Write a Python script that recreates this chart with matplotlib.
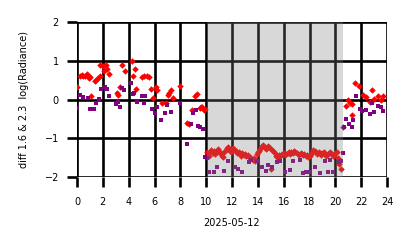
import matplotlib
matplotlib.use("Agg")
import matplotlib.pyplot as plt
import numpy as np

# Red series (diff 1.6)
red_hours = [0.03, 0.23, 0.4, 0.5, 0.65, 0.8, 0.9, 1.0, 1.05, 1.4, 1.5, 1.65, 1.8, 1.78, 2.0, 2.1, 2.25, 2.35, 2.5,
             3.07, 3.2, 3.3, 3.5, 3.7, 4.23, 4.35, 4.5, 4.6, 5.0, 5.2, 5.4, 5.6, 5.7, 5.9, 6.1, 6.2,
             6.55, 6.85, 7.05, 7.15, 7.25, 7.4, 8.0, 8.5, 8.7, 8.9, 9.15, 9.3, 9.5, 9.6, 9.7, 9.8, 9.9,
             10.1, 10.2, 10.3, 10.4, 10.5, 10.6, 10.7, 10.8, 10.9, 11.0, 11.1, 11.2, 11.3, 11.4, 11.5, 11.6,
             11.7, 11.8, 11.9, 12.0, 12.1, 12.2, 12.3, 12.4, 12.5, 12.6, 12.7, 12.8, 12.9, 13.0, 13.1, 13.2,
             13.3, 13.4, 13.5, 13.6, 13.7, 13.8, 13.9, 14.0, 14.1, 14.2, 14.3, 14.4, 14.5, 14.6, 14.7, 14.8,
             14.9, 15.0, 15.1, 15.2, 15.3, 15.4, 15.5, 15.6, 15.7, 15.8, 15.9, 16.0, 16.1, 16.2, 16.3, 16.4,
             16.5, 16.6, 16.7, 16.8, 16.9, 17.0, 17.1, 17.2, 17.3, 17.4, 17.5, 17.6, 17.7, 17.8, 17.9, 18.0,
             18.1, 18.2, 18.3, 18.4, 18.5, 18.6, 18.7, 18.8, 18.9, 19.0, 19.1, 19.2, 19.3, 19.4, 19.5, 19.6,
             19.7, 19.8, 19.9, 20.0, 20.1, 20.2, 20.3, 20.4,
             20.6, 20.8, 20.95, 21.1, 21.3, 21.3, 21.55, 21.8, 22.1, 22.4, 22.65, 22.8, 23.0, 23.3, 23.5, 23.7]
red_vals = [0.33, 0.62, 0.63, 0.62, 0.6, 0.65, 0.55, 0.59, 0.08, 0.47, 0.5, 0.55, 0.62, 0.9, 0.87, 0.75, 0.9, 0.8, 0.65,
            0.17, 0.12, 0.33, 0.9, 0.73, 0.99, 0.6, 0.78, 0.28, 0.58, 0.62, 0.6, 0.58, 0.28, 0.05, 0.32, 0.25,
            -0.1, -0.1, 0.12, 0.18, 0.25, 0.03, 0.35, -0.6, -0.62, -0.28, 0.1, 0.15, -0.23, -0.2, -0.18, -0.28, -0.25,
            -1.35, -1.45, -1.35, -1.3, -1.38, -1.32, -1.4, -1.35, -1.28, -1.33, -1.38, -1.45, -1.48, -1.35, -1.3, -1.25,
            -1.22, -1.3, -1.35, -1.28, -1.25, -1.3, -1.33, -1.38, -1.35, -1.4, -1.45, -1.38, -1.42, -1.4, -1.45, -1.42,
            -1.48, -1.5, -1.52, -1.55, -1.5, -1.58, -1.4, -1.35, -1.32, -1.28, -1.2, -1.17, -1.22, -1.28, -1.25, -1.2,
            -1.24, -1.8, -1.3, -1.33, -1.38, -1.45, -1.48, -1.43, -1.45, -1.42, -1.4, -1.38, -1.42, -1.4, -1.38, -1.35,
            -1.4, -1.36, -1.38, -1.33, -1.35, -1.38, -1.4, -1.42, -1.38, -1.4, -1.43, -1.4, -1.45, -1.43, -1.48, -1.45,
            -1.4, -1.35, -1.3, -1.32, -1.35, -1.4, -1.35, -1.38, -1.42, -1.38, -1.35, -1.4, -1.45, -1.4, -1.38, -1.35,
            -1.4, -1.45, -1.42, -1.38, -1.35, -1.5, -1.65, -1.78,
            -0.72, -0.17, 0.0, -0.1, -0.12, -0.4, 0.44, 0.35, 0.13, 0.06, -0.07, 0.25, 0.02, 0.1, 0.0, 0.08]

# Purple series (diff 2.3)
purple_hours = [0.0, 0.2, 0.5, 0.85, 1.0, 1.3, 1.45, 1.7, 1.85, 2.15, 2.3, 2.5, 3.0, 3.2, 3.35, 3.45, 3.65,
                4.15, 4.35, 4.45, 4.62, 5.0, 5.2, 5.3, 5.8, 6.05, 6.2, 6.5, 6.8, 6.95, 7.3, 7.95,
                8.5, 8.8, 9.0, 9.2, 9.35, 9.55, 9.75, 9.9, 10.05, 10.2,
                10.6, 10.8, 11.35, 11.7, 12.2, 12.45, 12.8, 13.3, 13.5, 13.95, 14.3, 14.6, 14.75, 15.1, 15.45,
                15.7, 16.1, 16.5, 16.7, 17.25, 17.5, 17.75, 18.0, 18.4, 18.8, 19.2, 19.45, 19.55, 19.8, 20.25, 20.4,
                20.6, 20.7, 20.85, 21.05, 21.25, 21.35, 21.6, 21.9, 22.05, 22.4, 22.65, 22.8, 23.0, 23.3, 23.5, 23.7]
purple_vals = [-0.22, 0.12, 0.06, 0.03, -0.25, -0.25, -0.1, 0.02, 0.28, 0.33, 0.27, 0.1, -0.12, -0.05, -0.2, 0.3, 0.25,
               0.43, 0.15, 0.17, -0.05, 0.1, -0.09, 0.1, -0.25, -0.35, -0.18, -0.53, -0.35, -0.13, -0.32, -0.1,
               -1.15, -0.63, -0.35, -0.27, -0.68, -0.7, -0.75, -1.47, -1.52, -1.87,
               -1.87, -1.75, -1.85, -1.58, -1.73, -1.8, -1.87, -1.62, -1.55, -1.58, -1.75, -1.85, -1.7, -1.73, -1.62,
               -1.58, -1.87, -1.83, -1.58, -1.55, -1.9, -1.88, -1.88, -1.75, -1.9, -1.58, -1.88, -1.55, -1.87, -1.6, -1.58,
               -1.38, -0.7, -0.5, -0.63, -0.7, -0.53, 0.1, -0.25, -0.3, -0.28, -0.38, -0.1, -0.33, -0.17, -0.18, -0.3]

shade_start, shade_end = 10.05, 20.55
x_ticks = list(range(0, 25, 2))
y_ticks = [-2, -1, 0, 1, 2]

fig = plt.figure(figsize=(4.14, 2.48), dpi=100)
ax = fig.add_axes([0.186, 0.286, 0.749, 0.625])

ax.scatter(red_hours, red_vals, marker='D', s=11, color='#ff0000', linewidths=0, zorder=3)
ax.scatter(purple_hours, purple_vals, marker='s', s=9, color='#800080', linewidths=0, zorder=3)
ax.axvspan(shade_start, shade_end, color='gray', alpha=0.3, linewidth=0, zorder=4)

ax.set_xlim(0, 24)
ax.set_ylim(-2, 2)
ax.set_xticks(x_ticks)
ax.set_yticks(y_ticks)
ax.set_yticklabels(['\u22122', '\u22121', '0', '1', '2'])
ax.grid(True, color='black', linewidth=1.9, zorder=1)
ax.set_axisbelow(True)
for s in ax.spines.values():
    s.set_visible(False)
ax.tick_params(axis='both', length=7, width=1.9, color='black', labelsize=7, pad=6)
ax.tick_params(axis='x', pad=7)
ax.set_xlabel('2025-05-12', fontsize=7, labelpad=8)
ax.set_ylabel('diff 1.6 & 2.3  log(Radiance)', fontsize=7, labelpad=11)

fig.savefig('out.png', dpi=100)
